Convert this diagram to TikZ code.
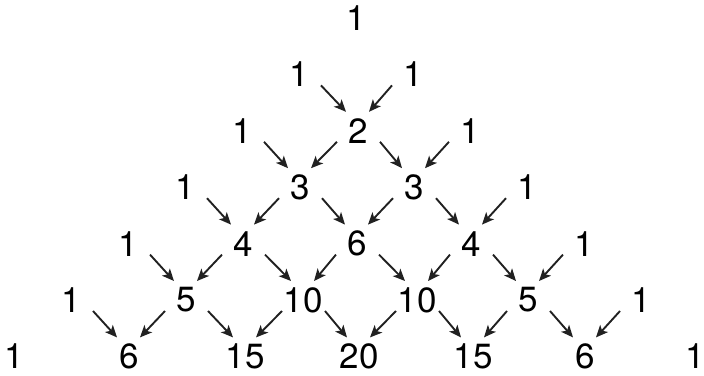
\documentclass[tikz,border=0pt]{standalone}
\usepackage{fontspec}
\setmainfont{TeX Gyre Heros}
\usetikzlibrary{arrows.meta}
\tikzset{
  num/.style={inner sep=0pt, font=\fontsize{35}{40}\selectfont},
  arr/.style={draw=black!87, line width=1.9pt, -{Stealth[length=12pt,width=10.5pt,inset=3pt]}}
}
\newcommand{\pnode}[4][0]{% shift, row, index, value
  \node[num] (n#2#3) at ({356+#1+57*(2*#3-#2)}, {-(18+56.4*#2)}) {#4};}
\begin{document}
\begin{tikzpicture}[x=1pt,y=1pt]
\useasboundingbox (0,0) rectangle (704,-375);
\pnode{0}{0}{1}
\pnode{1}{0}{1}\pnode{1}{1}{1}
\pnode{2}{0}{1}\pnode[2]{2}{1}{2}\pnode{2}{2}{1}
\pnode{3}{0}{1}\pnode[1]{3}{1}{3}\pnode[1]{3}{2}{3}\pnode{3}{3}{1}
\pnode{4}{0}{1}\pnode[1]{4}{1}{4}\pnode[1]{4}{2}{6}\pnode[1]{4}{3}{4}\pnode{4}{4}{1}
\pnode{5}{0}{1}\pnode[1]{5}{1}{5}\pnode[4]{5}{2}{10}\pnode[4]{5}{3}{10}\pnode[1]{5}{4}{5}\pnode{5}{5}{1}
\pnode{6}{0}{1}\pnode[1]{6}{1}{6}\pnode[3]{6}{2}{15}\pnode[3]{6}{3}{20}\pnode[3]{6}{4}{15}\pnode[1]{6}{5}{6}\pnode[-3]{6}{6}{1}
\foreach \r in {1,...,5}{
  \pgfmathtruncatemacro\rn{\r+1}
  \foreach \i in {0,...,\r}{
    \pgfmathtruncatemacro\ip{\i+1}
    \ifnum\i>0
      \draw[arr] ([shift={(-21,-11)}]n\r\i.center) -- ([shift={(11,19)}]n\rn\i.center);
    \fi
    \ifnum\i<\r
      \draw[arr] ([shift={(22,-11)}]n\r\i.center) -- ([shift={(-12,19)}]n\rn\ip.center);
    \fi
  }
}
\end{tikzpicture}
\end{document}
